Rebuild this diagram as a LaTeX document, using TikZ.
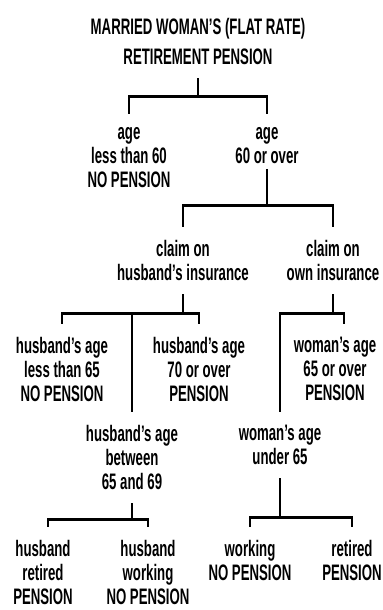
\documentclass[tikz,border=0pt]{standalone}
\usepackage{fontspec}
\setmainfont{Liberation Sans}[FakeStretch=0.59]
\usetikzlibrary{calc}

\begin{document}
\begin{tikzpicture}[x=0.5pt,y=-0.5pt]
	\tikzstyle{every node}=[align=center, anchor=north, inner xsep=0pt, inner ysep=6.5pt, font=\bfseries\fontsize{11.2}{12}\selectfont]
	\tikzstyle{branch}=[line width=1.4pt]
	\useasboundingbox (0,0) rectangle (383,610);
	% top question
	\node[font=\bfseries\fontsize{11.2}{15}\selectfont] (title) at (198,5) {MARRIED WOMAN'S (FLAT RATE)\\RETIREMENT PENSION};
	\node (young) at (129,113.7) {age\\less than 60\\NO PENSION};
	\node (old) at (267,113.7) {age\\60 or over};
	\node (husclaim) at (183,227) {claim on\\husband's insurance};
	\node (ownclaim) at (333,227) {claim on\\own insurance};
	\node (husyoung) at (62,324) {husband's age\\less than 65\\NO PENSION};
	\node (husold) at (199,324) {husband's age\\70 or over\\PENSION};
	\node (wifeold) at (335,324) {woman's age\\65 or over\\PENSION};
	\node (husmid) at (132,412) {husband's age\\between\\65 and 69};
	\node (wifeyoung) at (280,412) {woman's age\\under 65};
	\node (husret) at (43,527) {husband\\retired\\PENSION};
	\node (huswork) at (148,527) {husband\\working\\NO PENSION};
	\node (wifework) at (250,527) {working\\NO PENSION};
	\node (wiferet) at (352,527) {retired\\PENSION};
	% forks
	\draw[branch] (title.south) -- ++(0,18) -| (young.north);
	\draw[branch] (title.south) ++(0,18) -| (old.north);
	\draw[branch, shorten <=-4pt] (old.south) -- ++(0,29) -| (husclaim.north);
	\draw[branch] (old.south) ++(0,29) -| (ownclaim.north);
	\draw[branch] (husclaim.south) -- ++(0,19) -| (husyoung.north);
	\draw[branch] (husclaim.south) ++(0,19) -| (husold.north);
	\draw[branch] (husclaim.south) ++(0,19) -| (husmid.north);
	\draw[branch] (ownclaim.south) -- ++(0,19) -| ([xshift=4.5pt]wifeold.north);
	\draw[branch] (ownclaim.south) ++(0,19) -| (wifeyoung.north);
	\draw[branch] (husmid.south) -- ++(0,16) -| ([xshift=2.5pt]husret.north);
	\draw[branch] (husmid.south) ++(0,16) -| (huswork.north);
	\draw[branch] (wifeyoung.south) -- ++(0,39) -| (wifework.north);
	\draw[branch] (wifeyoung.south) ++(0,39) -| (wiferet.north);
\end{tikzpicture}
\end{document}
